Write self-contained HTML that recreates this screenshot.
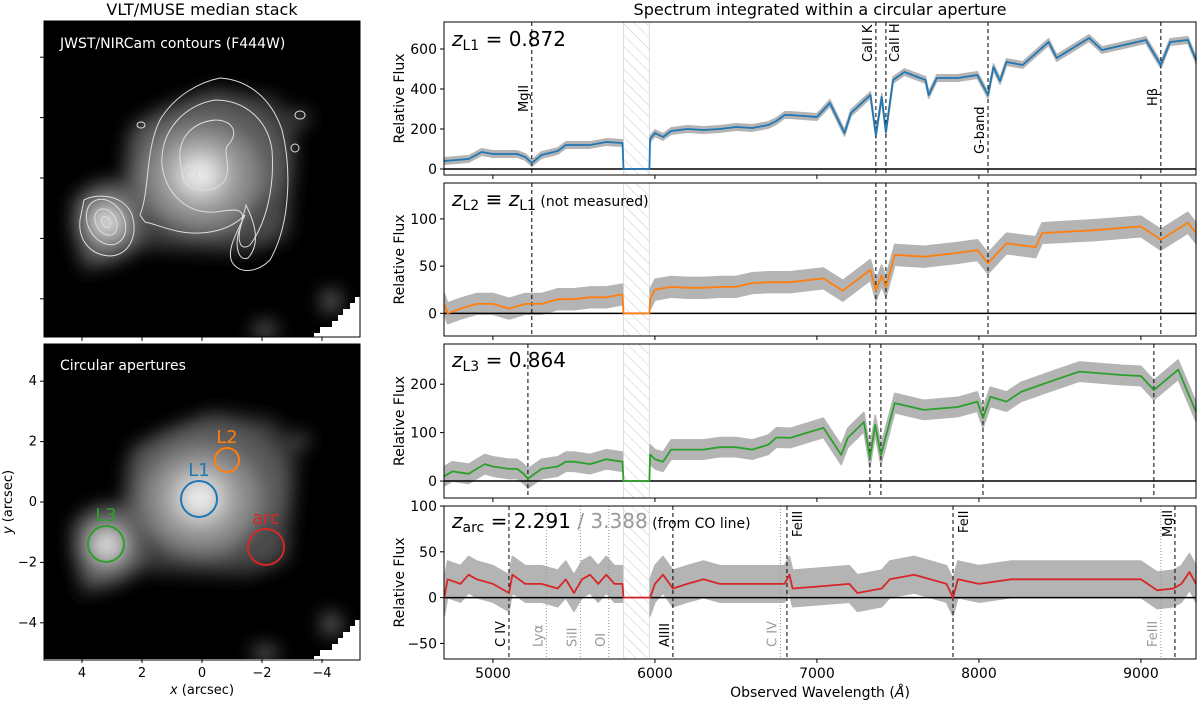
<!DOCTYPE html>
<html><head><meta charset="utf-8"><style>
body{margin:0;background:#fff;}
svg{display:block;font-family:"DejaVu Sans","Liberation Sans",sans-serif;}
</style></head><body>
<svg id="fig" width="1200" height="704" viewBox="0 0 1200 704" xmlns="http://www.w3.org/2000/svg">
<defs>
<filter id="blur6" x="-50%" y="-50%" width="200%" height="200%"><feGaussianBlur stdDeviation="9"/></filter>
<pattern id="hatch" width="8" height="8" patternUnits="userSpaceOnUse" patternTransform="rotate(-45)"><line x1="0" y1="0" x2="0" y2="8" stroke="#c8c8c8" stroke-width="1"/></pattern>
<clipPath id="imgclip1"><rect x="44" y="21" width="316" height="316"/></clipPath>
<clipPath id="imgclip2"><rect x="44" y="344" width="316" height="315"/></clipPath>
</defs>
<text x="202" y="15" font-size="16" text-anchor="middle">VLT/MUSE median stack</text>
<text x="820" y="15" font-size="16" text-anchor="middle">Spectrum integrated within a circular aperture</text>
<g id="imgs"></g>
<g id="spec"></g>
<text x="820" y="697" font-size="14" text-anchor="middle">Observed Wavelength (<tspan font-style="italic">Å</tspan>)</text>
<text x="202" y="694" font-size="13" text-anchor="middle"><tspan font-style="italic">x</tspan> (arcsec)</text>
<text x="12" y="502" font-size="13" text-anchor="middle" transform="rotate(-90 12 502)"><tspan font-style="italic">y</tspan> (arcsec)</text>
</svg>
<script>
// ---- Data ----
const xTicks = [5000, 6000, 7000, 8000, 9000];
const gapRange = [5806, 5966];
const wlL1 = [4700,4850,4930,5000,5150,5200,5240,5300,5400,5450,5600,5700,5800,5806,5966,5970,6000,6050,6100,6200,6300,6400,6500,6600,6700,6750,6800,6835,7000,7080,7170,7210,7330,7364,7400,7426,7470,7540,7670,7690,7740,7870,7990,8056,8090,8130,8170,8270,8430,8480,8680,8760,9030,9123,9180,9290,9340];
const fluxL1 = [40,50,85,75,75,60,30,70,90,120,120,135,130,0,0,150,180,160,190,200,195,200,210,205,220,240,270,270,260,330,180,280,370,170,360,185,445,485,445,370,455,455,470,370,510,440,535,520,635,555,655,595,645,520,635,645,545];
const wlL2 = [4700,4720,4800,4900,5000,5100,5200,5300,5400,5500,5600,5700,5800,5806,5966,5970,6000,6100,6200,6300,6400,6500,6600,6700,6835,7040,7160,7330,7364,7400,7426,7480,7660,7870,7990,8056,8170,8350,8390,8710,9000,9123,9290,9340];
const fluxL2 = [10,0,5,10,10,5,10,10,15,15,17,17,20,0,0,15,25,28,27,27,28,28,32,33,33,37,24,46,24,40,28,62,60,64,67,53,74,70,85,88,92,78,96,85];
const wlL3 = [4700,4750,4850,4900,4950,5000,5100,5150,5190,5216,5300,5400,5450,5500,5600,5700,5800,5806,5966,5970,6000,6050,6100,6200,6300,6400,6500,6600,6700,6750,6835,7040,7150,7190,7290,7327,7360,7395,7480,7660,7870,7990,8025,8070,8170,8260,8470,8620,8880,9000,9080,9230,9340];
const fluxL3 = [10,20,15,25,35,30,25,25,15,5,25,30,40,40,35,45,40,0,0,55,45,40,65,65,65,70,70,65,75,90,89,110,54,89,122,48,116,54,161,147,153,164,130,174,164,184,209,226,219,217,188,230,143];
const wlArc = [4700,4720,4800,4850,4900,5000,5099,5120,5200,5300,5400,5450,5500,5550,5600,5650,5700,5750,5800,5806,5966,5970,6000,6050,6111,6200,6300,6400,6500,6600,6700,6800,6830,6850,7000,7200,7250,7400,7450,7600,7800,7840,7870,8000,8200,8400,8600,8800,9000,9100,9200,9250,9300,9340];
const fluxArc = [0,20,15,25,20,15,5,25,15,15,10,20,5,20,25,15,25,15,15,0,0,0,15,25,10,15,20,15,15,15,15,15,25,10,12,15,5,10,20,25,15,0,20,15,20,20,20,20,20,8,10,15,28,15];
const noiseL1 = 16, noiseL2 = 11, noiseL3 = 20, noiseArc = 20;
const yTicksL1 = [0,200,400,600];
const yTicksL2 = [0,50,100];
const yTicksL3 = [0,100,200];
const yTicksArc = [-50,0,50,100];
const linesL1 = [5240,7364,7426,8056,9123];
const linesL3 = [5216,7327,7395,8025,9080];
const linesArcDashed = [5099,6111,6815,7840,9210];
const linesArcDotted = [5330,5540,5715,6775,9123];

// ---- Layout ----
const NS = "http://www.w3.org/2000/svg";
const X0 = 444, X1 = 1196, WMIN = 4698, WMAX = 9340;
function xs(w){ return X0 + (w - WMIN) / (WMAX - WMIN) * (X1 - X0); }
function mk(tag, attrs, parent){ const e = document.createElementNS(NS, tag); for (const k in attrs) e.setAttribute(k, attrs[k]); parent.appendChild(e); return e; }
const spec = document.getElementById('spec');

const panels = [
 {name:'l1', top:22, bot:175, ymin:-30, ymax:735, wl:wlL1, fl:fluxL1, noise:noiseL1, ticks:yTicksL1, col:'#1f77b4', lines:linesL1},
 {name:'l2', top:183, bot:336, ymin:-24, ymax:138, wl:wlL2, fl:fluxL2, noise:noiseL2, ticks:yTicksL2, col:'#ff7f0e', lines:linesL1},
 {name:'l3', top:344, bot:498, ymin:-35, ymax:283, wl:wlL3, fl:fluxL3, noise:noiseL3, ticks:yTicksL3, col:'#2ca02c', lines:linesL3},
 {name:'arc', top:506, bot:659, ymin:-67, ymax:100, wl:wlArc, fl:fluxArc, noise:noiseArc, ticks:yTicksArc, col:'#d62728', lines:linesArcDashed}
];

panels.forEach((p, pi) => {
  const ys = v => p.bot - (v - p.ymin) / (p.ymax - p.ymin) * (p.bot - p.top);
  const g = mk('g', {}, spec);
  
  
  const gx0 = xs(gapRange[0]), gx1 = xs(gapRange[1]);
  const hr = mk('rect', {x:gx0, y:p.top, width:gx1-gx0, height:p.bot-p.top, fill:'url(#hatch)'}, g);
  
  
  mk('line', {x1:gx0, x2:gx0, y1:p.top, y2:p.bot, stroke:'#ddd', 'stroke-width':1}, g);
  mk('line', {x1:gx1, x2:gx1, y1:p.top, y2:p.bot, stroke:'#ddd', 'stroke-width':1}, g);
  let segs = [[]];
  p.wl.forEach((w, i) => {
    if (w > gapRange[0] - 1 && w < gapRange[1] + 1) { if (segs[segs.length-1].length) segs.push([]); return; }
    segs[segs.length-1].push(i);
  });
  segs.forEach(s => {
    if (s.length < 2) return;
    const a = s.map(i => xs(p.wl[i]).toFixed(1) + ',' + ys(p.fl[i] + p.noise).toFixed(1));
    const b = s.slice().reverse().map(i => xs(p.wl[i]).toFixed(1) + ',' + ys(p.fl[i] - p.noise).toFixed(1));
    const band = mk('polygon', {points:a.concat(b).join(' '), fill:'#b4b4b4', stroke:'#b4b4b4', 'stroke-width':1.5, 'stroke-linejoin':'round'}, g);
    
    
  });
  mk('line', {x1:X0, x2:X1, y1:ys(0), y2:ys(0), stroke:'#000', 'stroke-width':1.5}, g);
  if (pi < 3) {
    p.lines.forEach(w => {
      const l = mk('line', {x1:xs(w), x2:xs(w), y1:p.top, y2:p.bot, stroke:'#000', 'stroke-width':1, 'stroke-dasharray':'4,3'}, g);
      
      
    });
  } else {
    linesArcDashed.forEach(w => {
      const l = mk('line', {x1:xs(w), x2:xs(w), y1:p.top, y2:p.bot, stroke:'#000', 'stroke-width':1, 'stroke-dasharray':'4,3'}, g);
      
      
    });
    linesArcDotted.forEach(w => {
      const l = mk('line', {x1:xs(w), x2:xs(w), y1:p.top, y2:p.bot, stroke:'#999', 'stroke-width':1, 'stroke-dasharray':'1,2'}, g);
      
      
    });
  }
  const pts = p.wl.map((w, i) => xs(w).toFixed(1) + ',' + ys(p.fl[i]).toFixed(1)).join(' ');
  const pl = mk('polyline', {points:pts, fill:'none', stroke:p.col, 'stroke-width':1.8, 'stroke-linejoin':'round'}, g);
  
  
  mk('rect', {x:X0, y:p.top, width:X1-X0, height:p.bot-p.top, fill:'none', stroke:'#000', 'stroke-width':1}, g);
  xTicks.forEach(t => {
    mk('line', {x1:xs(t), x2:xs(t), y1:p.bot, y2:p.bot+4, stroke:'#000', 'stroke-width':1}, g);
    if (pi === 3) {
      const tx = mk('text', {x:xs(t), y:p.bot+19, 'font-size':14, 'text-anchor':'middle'}, g);
      tx.textContent = t;
      
      
    }
  });
  p.ticks.forEach(t => {
    mk('line', {x1:X0-4, x2:X0, y1:ys(t), y2:ys(t), stroke:'#000', 'stroke-width':1}, g);
    const tx = mk('text', {x:X0-7, y:ys(t)+5, 'font-size':14, 'text-anchor':'end'}, g);
    tx.textContent = t < 0 ? '\u2212' + (-t) : t;
    
    
  });
  const yl = mk('text', {x:404, y:(p.top+p.bot)/2, 'font-size':14, 'text-anchor':'middle', transform:'rotate(-90 404 '+((p.top+p.bot)/2)+')'}, g);
  yl.textContent = 'Relative Flux';
  
  
});

function rlabel(x, y, txt, col, name){
  const t = mk('text', {x:x, y:y, 'font-size':13, fill:col, 'text-anchor':'start', transform:'rotate(-90 '+x+' '+y+')'}, spec);
  t.textContent = txt;
  
  
}
rlabel(xs(5240)-4, 112, 'MgII', '#000', 'mgii-label');
rlabel(xs(7364)-4, 62, 'CaII K', '#000', 'caii-k-label');
rlabel(xs(7426)+13, 62, 'CaII H', '#000', 'caii-h-label');
rlabel(xs(8056)-4, 154, 'G-band', '#000', 'g-band-label');
rlabel(xs(9123)-4, 106, 'Hβ', '#000', 'hbeta-label');
rlabel(xs(5099)-4, 647, 'C IV', '#000', 'civ-label');
rlabel(xs(5330)-4, 647, 'Lyα', '#999', 'lya-label');
rlabel(xs(5540)-4, 647, 'SiII', '#999', 'siii-label');
rlabel(xs(5715)-4, 647, 'OI', '#999', 'oi-label');
rlabel(xs(6111)-4, 647, 'AlIII', '#000', 'aliii-label');
rlabel(xs(6775)-4, 647, 'C IV', '#999', 'civ-alt-label');
rlabel(xs(9123)-4, 647, 'FeIII', '#999', 'feiii-alt-label');
rlabel(xs(6815)+15, 537, 'FeIII', '#000', 'feiii-label');
rlabel(xs(7840)+15, 533, 'FeII', '#000', 'feii-label');
rlabel(xs(9210)-3, 537, 'MgII', '#000', 'mgii-arc-label');

spec.insertAdjacentHTML('beforeend',
 '<text x="452" y="46" font-size="20"><tspan font-style="italic">z</tspan><tspan font-size="14" dy="4">L1</tspan><tspan dy="-4"> = 0.872</tspan></text>'+
 '<text x="452" y="206" font-size="20"><tspan font-style="italic">z</tspan><tspan font-size="14" dy="4">L2</tspan><tspan dy="-4"> ≡ </tspan><tspan font-style="italic">z</tspan><tspan font-size="14" dy="4">L1</tspan><tspan dy="-4" font-size="14">  (not measured)</tspan></text>'+
 '<text x="452" y="367" font-size="20"><tspan font-style="italic">z</tspan><tspan font-size="14" dy="4">L3</tspan><tspan dy="-4"> = 0.864</tspan></text>'+
 '<text x="452" y="528" font-size="20"><tspan font-style="italic">z</tspan><tspan font-size="14" dy="4">arc</tspan><tspan dy="-4"> = 2.291 </tspan><tspan fill="#999">/ 3.388</tspan><tspan font-size="14">   (from CO line)</tspan></text>');

// ---- Images ----
const imgs = document.getElementById('imgs');
function sky(top, clip, name){
  const cx = 202, cy = top + 157;
  const g = mk('g', {'clip-path':'url(#'+clip+')'}, imgs);
  
  
  mk('rect', {x:44, y:top, width:316, height:316, fill:'#000'}, g);
  const b = mk('g', {filter:'url(#blur6)'}, g);
  mk('path', {d:'M'+(cx-70)+','+(cy-55)+' L'+(cx+10)+','+(cy-90)+' L'+(cx+75)+','+(cy-80)+' L'+(cx+95)+','+(cy-40)+' L'+(cx+85)+','+(cy+60)+' L'+(cx+45)+','+(cy+75)+' L'+(cx-60)+','+(cy+70)+' L'+(cx-120)+','+(cy+95)+' L'+(cx-130)+','+(cy+20)+' L'+(cx-80)+','+(cy+5)+' Z', fill:'#3a3a3a'}, b);
  mk('ellipse', {cx:cx+5, cy:cy-10, rx:80, ry:70, fill:'#5c5c5c'}, b);
  mk('ellipse', {cx:cx-45, cy:cy-30, rx:30, ry:25, fill:'#5a5a5a'}, b);
  mk('ellipse', {cx:cx+60, cy:cy+40, rx:25, ry:25, fill:'#4a4a4a'}, b);
  mk('ellipse', {cx:cx, cy:cy-2, rx:58, ry:52, fill:'#8a8a8a'}, b);
  mk('ellipse', {cx:cx-2, cy:cy-3, rx:34, ry:32, fill:'#b8b8b8'}, b);
  mk('ellipse', {cx:cx-2, cy:cy-3, rx:16, ry:15, fill:'#f2f2f2'}, b);
  mk('ellipse', {cx:cx-95, cy:cy+44, rx:34, ry:40, fill:'#6a6a6a'}, b);
  mk('ellipse', {cx:cx-95, cy:cy+44, rx:16, ry:16, fill:'#d8d8d8'}, b);
  mk('ellipse', {cx:cx+97, cy:cy-60, rx:10, ry:8, fill:'#555'}, b);
  mk('rect', {x:cx+52, y:top+302, width:22, height:14, fill:'#666'}, b);
  mk('rect', {x:322, y:top+270, width:18, height:20, fill:'#666'}, b);
  const st = 'M360,'+(top+276)+' L355,'+(top+276)+' L355,'+(top+282)+' L350,'+(top+282)+' L350,'+(top+288)+' L343,'+(top+288)+' L343,'+(top+294)+' L338,'+(top+294)+' L338,'+(top+300)+' L332,'+(top+300)+' L332,'+(top+306)+' L320,'+(top+306)+' L320,'+(top+312)+' L314,'+(top+312)+' L314,'+(top+317)+' L360,'+(top+317)+' Z';
  const tri = mk('path', {d:st, fill:'#fff'}, g);
  
  
  mk('rect', {x:44, y:top, width:316, height:316, fill:'none', stroke:'#000', 'stroke-width':1}, imgs);
}
sky(21, 'imgclip1', 'muse-image-contours');
const cg = mk('g', {fill:'none', stroke:'#ddd', 'stroke-width':1, 'clip-path':'url(#imgclip1)'}, imgs);


mk('path', {d:'M140,215 C150,190 145,150 160,120 C175,95 200,82 220,78 C250,80 272,100 282,130 C292,170 290,225 270,260 C258,272 240,275 232,262 C226,250 238,230 245,215 C235,225 220,232 200,233 C175,234 160,225 145,222 Z'}, cg);
mk('path', {d:'M162,165 C160,130 185,105 215,100 C245,100 268,120 272,150 C275,190 265,225 250,245 C240,252 236,240 242,222 C246,206 232,210 215,212 C188,214 166,195 162,165 Z'}, cg);
mk('path', {d:'M180,160 C178,135 195,122 215,120 C232,120 240,132 228,145 C222,152 232,165 225,180 C215,195 190,192 183,180 Z'}, cg);
mk('path', {d:'M246,205 C256,225 260,245 248,258 C238,262 234,245 240,228 Z'}, cg);
mk('ellipse', {cx:202, cy:175, rx:6, ry:5}, cg);
mk('ellipse', {cx:190, cy:174, rx:7, ry:8}, cg);
mk('ellipse', {cx:106, cy:222, rx:18, ry:24, transform:'rotate(-30 106 222)'}, cg);
mk('ellipse', {cx:106, cy:222, rx:10, ry:14, transform:'rotate(-30 106 222)'}, cg);
mk('ellipse', {cx:106, cy:222, rx:4, ry:6, transform:'rotate(-30 106 222)'}, cg);
mk('path', {d:'M84,200 C100,192 125,196 132,215 C138,235 130,255 110,256 C90,255 78,240 80,220 Z'}, cg);
mk('ellipse', {cx:141, cy:125, rx:4, ry:3}, cg);
mk('ellipse', {cx:300, cy:115, rx:5, ry:4}, cg);
mk('ellipse', {cx:295, cy:148, rx:4, ry:4}, cg);
[-4,-2,0,2,4].forEach(v => {
  mk('line', {x1:202-v*30, x2:202-v*30, y1:337, y2:341, stroke:'#000'}, imgs);
  mk('line', {x1:40, x2:44, y1:178-v*30.2, y2:178-v*30.2, stroke:'#000'}, imgs);
});
const it1 = mk('text', {x:60, y:48, 'font-size':14, fill:'#fff'}, imgs);
it1.textContent = 'JWST/NIRCam contours (F444W)';



sky(344, 'imgclip2', 'muse-image-apertures');
const it2 = mk('text', {x:60, y:370, 'font-size':14, fill:'#fff'}, imgs);
it2.textContent = 'Circular apertures';


[-4,-2,0,2,4].forEach(v => {
  const x = 202 - v*30, y = 502 - v*30.2;
  mk('line', {x1:x, x2:x, y1:659, y2:663, stroke:'#000'}, imgs);
  const tx = mk('text', {x:x, y:677, 'font-size':13, 'text-anchor':'middle'}, imgs);
  tx.textContent = v < 0 ? '\u2212' + (-v) : v;
  
  
  mk('line', {x1:40, x2:44, y1:y, y2:y, stroke:'#000'}, imgs);
  const ty = mk('text', {x:37, y:y+4, 'font-size':13, 'text-anchor':'end'}, imgs);
  ty.textContent = v < 0 ? '\u2212' + (-v) : v;
  
  
});
const aps = [
 {n:'L1', x:199, y:499, r:18, c:'#1f77b4'},
 {n:'L2', x:227, y:460, r:12, c:'#ff7f0e'},
 {n:'L3', x:106, y:544, r:18, c:'#2ca02c'},
 {n:'arc', x:266, y:547, r:18, c:'#d62728'}
];
aps.forEach(a => {
  const c = mk('circle', {cx:a.x, cy:a.y, r:a.r, fill:'none', stroke:a.c, 'stroke-width':2}, imgs);
  
  
  const t = mk('text', {x:a.x, y:a.y - a.r - 5, 'font-size':18, fill:a.c, 'text-anchor':'middle'}, imgs);
  t.textContent = a.n;
  
  
});
</script>
</body></html>
